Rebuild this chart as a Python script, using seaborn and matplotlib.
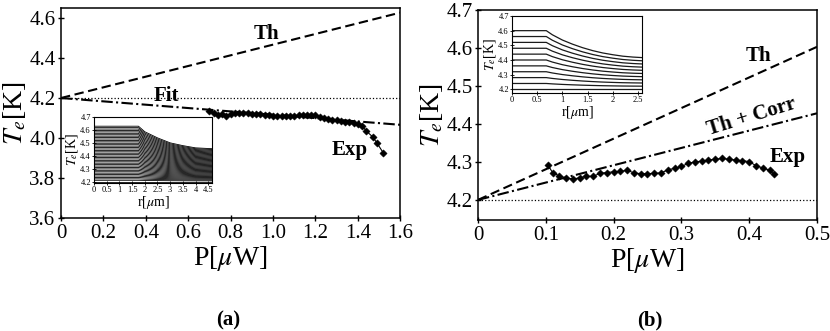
import numpy as np
import pandas as pd
import matplotlib
matplotlib.use("Agg")
import matplotlib.pyplot as plt
import seaborn as sns

# ---------------- data ----------------
# panel (a)
P_line_a = [0.0, 1.6]
Th_a = [4.2, 4.627]
Fit_a = [4.2, 4.066]
base_a = [4.2, 4.2]
P_exp_a = [0.70, 0.72, 0.74, 0.76, 0.78, 0.80, 0.82, 0.84, 0.86, 0.88, 0.90,
           0.92, 0.94, 0.96, 0.98, 1.00, 1.02, 1.04, 1.06, 1.08, 1.10, 1.12,
           1.14, 1.16, 1.18, 1.20, 1.22, 1.24, 1.26, 1.28, 1.30, 1.32, 1.34,
           1.36, 1.38, 1.40, 1.42, 1.44, 1.47, 1.49, 1.52]
T_exp_a = [4.137, 4.123, 4.117, 4.118, 4.112, 4.120, 4.123, 4.125, 4.123, 4.123, 4.122,
           4.120, 4.118, 4.116, 4.113, 4.110, 4.108, 4.108, 4.108, 4.110, 4.112, 4.113,
           4.115, 4.117, 4.117, 4.113, 4.107, 4.098, 4.093, 4.092, 4.088, 4.085, 4.082,
           4.078, 4.075, 4.070, 4.060, 4.035, 4.005, 3.975, 3.925]

# panel (b)
P_line_b = [0.0, 0.5]
Th_b = [4.2, 4.603]
Corr_b = [4.2, 4.428]
base_b = [4.2, 4.2]
P_exp_b = [0.103, 0.11, 0.12, 0.13, 0.14, 0.15, 0.16, 0.17, 0.18, 0.19, 0.20,
           0.21, 0.22, 0.23, 0.24, 0.25, 0.26, 0.27, 0.28, 0.29, 0.30, 0.31,
           0.32, 0.33, 0.34, 0.35, 0.36, 0.37, 0.38, 0.39, 0.40, 0.41, 0.42,
           0.43, 0.437]
T_exp_b = [4.292, 4.272, 4.263, 4.258, 4.255, 4.258, 4.262, 4.262, 4.270, 4.272, 4.274,
           4.275, 4.278, 4.271, 4.269, 4.269, 4.270, 4.271, 4.279, 4.283, 4.288, 4.296,
           4.300, 4.302, 4.305, 4.307, 4.309, 4.307, 4.305, 4.303, 4.301, 4.290, 4.284,
           4.278, 4.267]

# inset (a): temperature profiles
r_a = [0.0, 1.75, 2.0, 2.5, 3.0, 3.5, 4.0, 4.65]
shape_a = [1.0, 1.0, 0.90, 0.79, 0.70, 0.65, 0.61, 0.595]
levels_a = [4.200, 4.211, 4.222, 4.233, 4.244, 4.255, 4.266, 4.277, 4.288, 4.299,
            4.310, 4.321, 4.332, 4.343, 4.354, 4.365, 4.376, 4.387, 4.398, 4.409,
            4.420, 4.431, 4.442, 4.453, 4.464, 4.475, 4.486, 4.497, 4.508, 4.519,
            4.530, 4.541, 4.552, 4.563, 4.574, 4.585, 4.596, 4.607, 4.618, 4.629]

# inset (b): temperature profiles
r_b = [0.0, 0.68, 0.8, 1.0, 1.2, 1.4, 1.6, 1.8, 2.0, 2.2, 2.4, 2.6]
shape_b = [1.0, 1.0, 0.93, 0.84, 0.77, 0.71, 0.66, 0.62, 0.59, 0.565, 0.55, 0.54]
levels_b = [4.20, 4.24, 4.28, 4.32, 4.36, 4.40, 4.44, 4.48, 4.52, 4.56, 4.60]
T_bath = 4.2

# ---------------- style ----------------
sns.set_theme(style="ticks")
plt.rcParams["font.family"] = ["Liberation Serif", "DejaVu Serif"]
plt.rcParams["mathtext.fontset"] = "stix"
plt.rcParams["axes.linewidth"] = 1.1
plt.rcParams["axes.edgecolor"] = "black"
plt.rcParams["text.color"] = "black"
plt.rcParams["axes.labelcolor"] = "black"
plt.rcParams["xtick.color"] = "black"
plt.rcParams["ytick.color"] = "black"

fig = plt.figure(figsize=(8.3, 3.31), dpi=100)
ax_a = fig.add_axes([0.0735, 0.3414, 0.4088, 0.6344])
ax_b = fig.add_axes([0.5759, 0.3353, 0.4084, 0.6345])
ins_a = fig.add_axes([0.1133, 0.4471, 0.1422, 0.1994])
ins_b = fig.add_axes([0.6169, 0.719, 0.1566, 0.2327])

dash = (4.5, 2.2)
dashdot = (5.5, 1.6, 1, 1.6)


def line(ax, x, y, dashes=None, lw=1.5, ls="-"):
    sns.lineplot(x=x, y=y, ax=ax, color="black", lw=lw, linestyle=ls)
    ln = ax.lines[-1]
    if dashes is not None:
        ln.set_dashes(dashes)
    return ln


def exp_points(ax, x, y):
    sns.lineplot(x=x, y=y, ax=ax, color="black", lw=0.8, sort=False)
    sns.scatterplot(x=x, y=y, ax=ax, marker="D", s=14, color="black",
                    edgecolor="black", linewidth=0.3, zorder=4)


# ---- panel (a) ----
line(ax_a, P_line_a, base_a, lw=0.9, ls=":")
line(ax_a, P_line_a, Th_a, dashes=dash)
line(ax_a, P_line_a, Fit_a, dashes=dashdot)
exp_points(ax_a, P_exp_a, T_exp_a)
ax_a.set_xlim(0, 1.6)
ax_a.set_ylim(3.6, 4.65)
ax_a.set_xticks([0, 0.2, 0.4, 0.6, 0.8, 1.0, 1.2, 1.4, 1.6])
ax_a.set_xticklabels(["0", "0.2", "0.4", "0.6", "0.8", "1.0", "1.2", "1.4", "1.6"])
ax_a.set_yticks([3.6, 3.8, 4.0, 4.2, 4.4, 4.6])
ax_a.set_yticklabels(["3.6", "3.8", "4.0", "4.2", "4.4", "4.6"])
ax_a.text(0.97, 4.52, "Th", fontsize=15, fontweight="bold", ha="center", va="center")
ax_a.text(0.495, 4.21, "Fit", fontsize=15, fontweight="bold", ha="center", va="center")
ax_a.text(1.36, 3.94, "Exp", fontsize=15, fontweight="bold", ha="center", va="center")

# ---- panel (b) ----
line(ax_b, P_line_b, base_b, lw=0.9, ls=":")
line(ax_b, P_line_b, Th_b, dashes=dash)
line(ax_b, P_line_b, Corr_b, dashes=dashdot)
exp_points(ax_b, P_exp_b, T_exp_b)
ax_b.set_xlim(0, 0.5)
ax_b.set_ylim(4.147, 4.7)
ax_b.set_xticks([0, 0.1, 0.2, 0.3, 0.4, 0.5])
ax_b.set_xticklabels(["0", "0.1", "0.2", "0.3", "0.4", "0.5"])
ax_b.set_yticks([4.2, 4.3, 4.4, 4.5, 4.6, 4.7])
ax_b.set_yticklabels(["4.2", "4.3", "4.4", "4.5", "4.6", "4.7"])
ax_b.text(0.413, 4.58, "Th", fontsize=15, fontweight="bold", ha="center", va="center")
ax_b.text(0.404, 4.418, "Th + Corr", fontsize=15, fontweight="bold", ha="center",
          va="center", rotation=17)
ax_b.text(0.457, 4.313, "Exp", fontsize=15, fontweight="bold", ha="center", va="center")

for ax in (ax_a, ax_b):
    ax.set_xlabel(r"P[$\mu$W]", fontsize=20, labelpad=1)
    ax.set_ylabel(r"$T_e$[K]", fontsize=20, labelpad=1)
    ax.tick_params(direction="inout", length=4, width=1, labelsize=15, pad=2,
                   colors="black")
    for s in ax.spines.values():
        s.set_visible(True)
        s.set_color("black")

# ---- insets ----
for lev in levels_a:
    prof = [T_bath + (lev - T_bath) * f for f in shape_a]
    sns.lineplot(x=r_a, y=prof, ax=ins_a, color="black", lw=0.6)
ins_a.set_xlim(0, 4.65)
ins_a.set_ylim(4.19, 4.7)
ins_a.set_xticks([0, 0.5, 1, 1.5, 2, 2.5, 3, 3.5, 4, 4.5])
ins_a.set_xticklabels(["0", "0.5", "1", "1.5", "2", "2.5", "3", "3.5", "4", "4.5"])

for lev in levels_b:
    prof = [T_bath + (lev - T_bath) * f for f in shape_b]
    sns.lineplot(x=r_b, y=prof, ax=ins_b, color="#1a1a1a", lw=0.9)
ins_b.set_xlim(0, 2.58)
ins_b.set_ylim(4.175, 4.7)
ins_b.set_xticks([0, 0.5, 1, 1.5, 2, 2.5])
ins_b.set_xticklabels(["0", "0.5", "1", "1.5", "2", "2.5"])

for ins in (ins_a, ins_b):
    ins.set_yticks([4.2, 4.3, 4.4, 4.5, 4.6, 4.7])
    ins.set_yticklabels(["4.2", "4.3", "4.4", "4.5", "4.6", "4.7"])
    ins.set_xlabel(r"r[$\mu$m]", fontsize=10, labelpad=0)
    ins.set_ylabel(r"$T_e$[K]", fontsize=10, labelpad=0)
    ins.tick_params(direction="inout", length=2.5, width=0.6, labelsize=6, pad=1,
                    colors="black")
    for s in ins.spines.values():
        s.set_visible(True)
        s.set_color("black")
        s.set_linewidth(0.8)

fig.text(0.275, 0.033, "(a)", fontsize=15, fontweight="bold", ha="center", va="center")
fig.text(0.783, 0.033, "(b)", fontsize=15, fontweight="bold", ha="center", va="center")

fig.savefig("out.png", dpi=100)
